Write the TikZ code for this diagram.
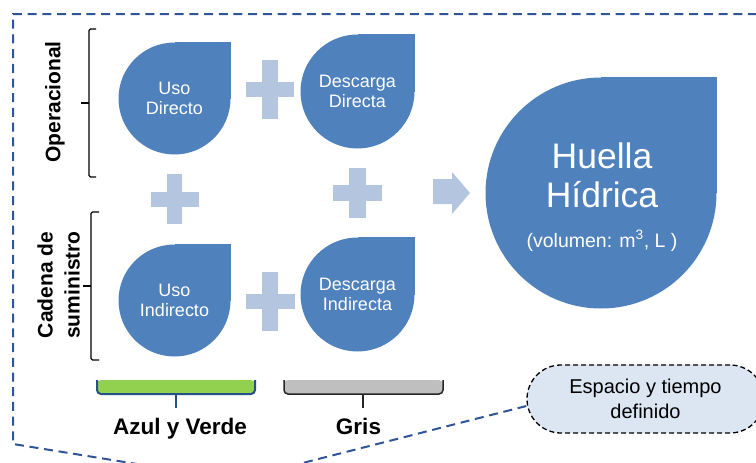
\documentclass[tikz,border=0pt]{standalone}
\usepackage{fontspec}
\setmainfont{Liberation Sans}
\usetikzlibrary{calc,backgrounds}
\definecolor{dropblue}{HTML}{4F81BD}
\definecolor{plusblue}{HTML}{B4C5DF}
\definecolor{frameblue}{HTML}{2F5597}
\definecolor{bargreen}{HTML}{92D050}
\definecolor{barblue}{HTML}{25508A}
\definecolor{bargray}{HTML}{BFBFBF}
\definecolor{bubblefill}{HTML}{DCE6F2}
\begin{document}
\begin{tikzpicture}[x=1pt,y=-1pt,
  drop/.style={circle,fill=dropblue,inner sep=0pt,text=white,align=center,
    font=\fontsize{18}{20}\selectfont},
  bigtxt/.style={text=white,inner sep=0pt,anchor=base,font=\fontsize{35.5}{40}\selectfont},
  midtxt/.style={text=white,inner sep=0pt,anchor=base,font=\fontsize{19.5}{22}\selectfont},
  lbl/.style={inner sep=0pt,align=center,font=\bfseries\fontsize{21}{27}\selectfont},
  bot/.style={inner sep=0pt,anchor=base,font=\bfseries\fontsize{22.5}{27}\selectfont},
  brk/.style={draw=black,line width=1.3pt,rounded corners=1.5pt},
  framedash/.style={draw=frameblue,line width=2pt,dash pattern=on 9pt off 5.7pt},
  bubble/.style={draw=black,fill=bubblefill,line width=1.3pt,dash pattern=on 5pt off 3pt,
    rounded corners=34pt,minimum width=237pt,minimum height=68pt,inner sep=0pt,
    align=center,font=\fontsize{20}{25}\selectfont},
  plusfill/.style={fill=plusblue}
]
\useasboundingbox (0,0) rectangle (756,463);
\clip (0,0) rectangle (756,463);

% drops
\node[drop,minimum size=112pt] (ud) at (174.5,98.5) {Uso\\Directo};
\node[drop,minimum size=112pt] (ui) at (174.5,300.5) {Uso\\Indirecto};
\node[drop,minimum size=114pt] (dd) at (357.5,91.5) {Descarga\\Directa};
\node[drop,minimum size=114pt] (di) at (357.5,294.5) {Descarga\\Indirecta};
\node[drop,minimum size=231pt] (hh) at (601,193) {};
\node[bigtxt] (h1) at (602,168) {Huella};
\node[bigtxt] (h2) at (602,207) {Hídrica};
\node[midtxt] (h3) at (602,247) {(volumen: m\textsuperscript{3}, L )};

\begin{pgfonlayer}{background}
  \foreach \n in {ud,ui,dd,di,hh}
    \fill[dropblue] (\n.center) rectangle (\n.north -| \n.east);
\end{pgfonlayer}

% plus signs
\fill[plusfill] (246,82) rectangle (294,97);  \fill[plusfill] (262,60) rectangle (278,119);
\fill[plusfill] (151,192) rectangle (199,207); \fill[plusfill] (167,174) rectangle (182,224);
\fill[plusfill] (246,294) rectangle (295,309); \fill[plusfill] (262,272) rectangle (278,331);
\fill[plusfill] (333,185) rectangle (382,201); \fill[plusfill] (349,168) rectangle (366,218);

% block arrow
\fill[plusfill] (433,179) -- (452,179) -- (452,172) -- (470,193) -- (452,214) -- (452,204) -- (433,204) -- cycle;

% left brackets
\draw[brk] (96,29) -- (89,29) -- (89,177) -- (96,177);
\draw[brk] (89,103) -- (81,103);
\draw[brk] (99,212) -- (91,212) -- (91,360) -- (99,360);
\draw[brk] (91,286) -- (83,286);

\node[lbl,rotate=90] (op) at (55,102) {Operacional};
\node[lbl,rotate=90] (cad) at (58.5,285) {Cadena de\\suministro};

% bottom braces
\fill[bargreen,rounded corners=4pt] (97,380) -- (97,394) -- (255,394) -- (255,380) -- cycle;
\draw[barblue,line width=2pt,rounded corners=4pt] (97,380) -- (97,394) -- (255,394) -- (255,380);
\draw[barblue,line width=2pt] (176,394) -- (176,408);
\fill[bargray,rounded corners=4pt] (284,380) -- (284,394) -- (443,394) -- (443,380) -- cycle;
\draw[black!85,line width=1.5pt,rounded corners=4pt] (284,380) -- (284,394) -- (443,394) -- (443,380);
\draw[black!85,line width=1.5pt] (363,394) -- (363,408);

\node[bot] (av) at (180,434) {Azul y Verde};
\node[bot] (gr) at (358.5,434) {Gris};

% bubble
\node[bubble] (esp) at (645.5,399) {Espacio y tiempo\\definido};
\coordinate (tip) at (236,480);

\begin{pgfonlayer}{background}
  \draw[framedash] ($(esp.west)+(0,7)$) -- (tip) -- (13,444) -- (13,14) -- (790,14);
\end{pgfonlayer}
\end{tikzpicture}
\end{document}
